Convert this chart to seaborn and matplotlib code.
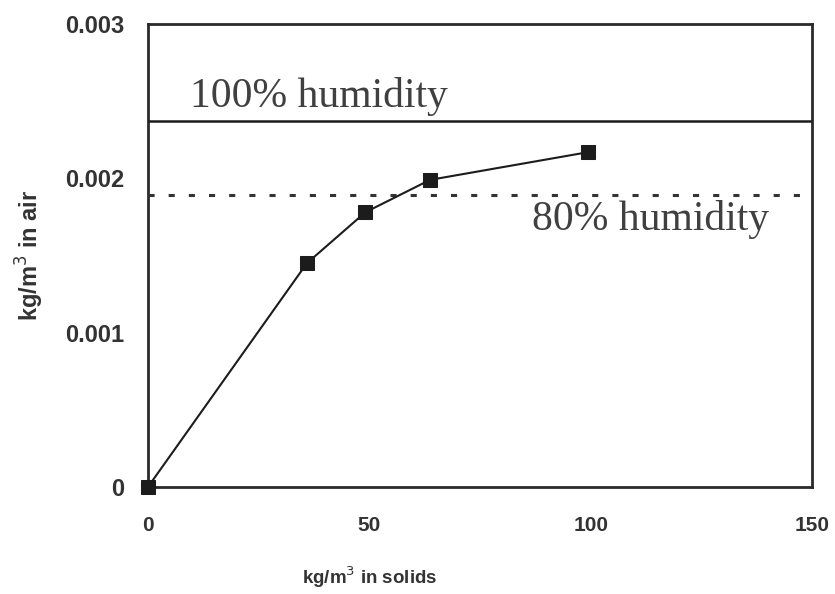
import matplotlib
matplotlib.use("Agg")
import matplotlib.pyplot as plt
import seaborn as sns
import pandas as pd

# Data
solids = [0, 35.9, 49.1, 63.7, 99.5]           # kg/m^3 in solids
air = [0.0, 0.00145, 0.00178, 0.00199, 0.00217]  # kg/m^3 in air
humidity_levels = [0.00237, 0.00189]
humidity_labels = ["100% humidity", "80% humidity"]
x_ticks = [0, 50, 100, 150]
y_ticks = [0, 0.001, 0.002, 0.003]
y_tick_labels = ["0", "0.001", "0.002", "0.003"]

sns.set_theme(style="white")
plt.rcParams['font.family'] = ['Liberation Sans', 'DejaVu Sans']

df = pd.DataFrame({"solids": solids, "air": air})

fig = plt.figure(figsize=(8.35, 5.94), dpi=100)
ax = fig.add_axes([0.1772, 0.1801, 0.9725 - 0.1772, 0.9596 - 0.1801])

dark = "#1c1c1c"
sns.lineplot(data=df, x="solids", y="air", ax=ax, color=dark, linewidth=1.5,
             marker="s", markersize=10, markeredgecolor=dark,
             markerfacecolor=dark, clip_on=False, zorder=5)

# humidity lines
ax.axhline(humidity_levels[0], color=dark, linewidth=1.8, zorder=3)
ax.axhline(humidity_levels[1], color="#333333", linewidth=2.2,
           linestyle=(0, (2.0, 4.6)), zorder=3)

serif = ['Liberation Serif', 'DejaVu Serif']
ax.text(9.5, 0.002463, humidity_labels[0], family=serif, fontsize=30,
        color="#404040", va="baseline", ha="left")
ax.text(86.8, 0.001666, humidity_labels[1], family=serif, fontsize=30,
        color="#404040", va="baseline", ha="left")

ax.set_xlim(0, 150)
ax.set_ylim(0, 0.003)
ax.set_xticks(x_ticks)
ax.set_xticklabels([str(t) for t in x_ticks])
ax.set_yticks(y_ticks)
ax.set_yticklabels(y_tick_labels)

for s in ax.spines.values():
    s.set_color("#2a2a2a")
    s.set_linewidth(2.0)

ax.tick_params(axis="both", direction="in", length=5, width=1.2,
               colors="#2a2a2a", labelcolor="#333333")
ax.tick_params(axis="y", pad=17, labelsize=17)
ax.tick_params(axis="x", pad=21, labelsize=15)
for lab in ax.get_xticklabels() + ax.get_yticklabels():
    lab.set_fontweight("bold")

ax.set_xlabel("kg/m$^3$ in solids", fontsize=13.5, fontweight="bold",
              color="#333333")
ax.set_ylabel("kg/m$^3$ in air", fontsize=17, fontweight="bold",
              color="#333333")
ax.xaxis.label.set_va("center")
ax.xaxis.set_label_coords(0.334, -0.194)
ax.yaxis.label.set_va("center")
ax.yaxis.set_label_coords(-0.178, 0.5)

fig.savefig("out.png", dpi=100)
